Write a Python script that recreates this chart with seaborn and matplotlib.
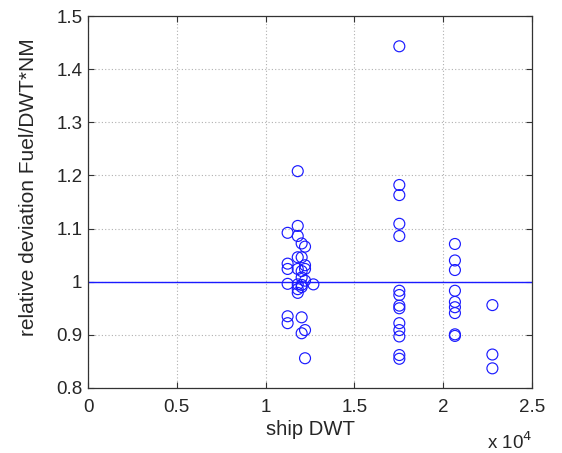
import matplotlib
matplotlib.use("Agg")
import matplotlib.pyplot as plt
import seaborn as sns
import numpy as np
import pandas as pd
from matplotlib.ticker import FixedLocator

# ---- data ----
dwt_c1 = [11810, 11810, 11240, 11810, 12030, 12220, 11810, 12030, 11240, 11240,
          12220, 12220, 11810, 12030, 12030, 11240, 11810, 12030, 12220, 12690,
          11810, 12030, 11810, 11240, 11240, 12030, 12220, 12030, 12220]
rel_c1 = [1.208, 1.105, 1.092, 1.086, 1.072, 1.066, 1.046, 1.046, 1.034, 1.024,
          1.031, 1.024, 1.024, 1.020, 1.008, 0.996, 0.995, 0.994, 1.002, 0.995,
          0.979, 0.990, 0.986, 0.935, 0.922, 0.933, 0.909, 0.903, 0.856]

dwt_c2 = [17530] * 12
rel_c2 = [1.443, 1.182, 1.163, 1.109, 1.086, 0.983, 0.975, 0.955, 0.950,
          0.922, 0.909, 0.897]
dwt_c2b = [17530, 17530]
rel_c2b = [0.862, 0.855]

dwt_c3 = [20660] * 9
rel_c3 = [1.071, 1.040, 1.022, 0.983, 0.962, 0.952, 0.941, 0.901, 0.898]

dwt_c4 = [22770, 22770, 22770]
rel_c4 = [0.956, 0.863, 0.837]

x_ticks = [0, 5000, 10000, 15000, 20000, 25000]
x_tick_labels = ["0", "0.5", "1", "1.5", "2", "2.5"]
y_ticks = [0.8, 0.9, 1.0, 1.1, 1.2, 1.3, 1.4, 1.5]
y_tick_labels = ["0.8", "0.9", "1", "1.1", "1.2", "1.3", "1.4", "1.5"]

df = pd.DataFrame({
    "dwt": dwt_c1 + dwt_c2 + dwt_c2b + dwt_c3 + dwt_c4,
    "rel": rel_c1 + rel_c2 + rel_c2b + rel_c3 + rel_c4,
})

sns.set_style("white")
plt.rcParams["font.family"] = ["Liberation Sans", "DejaVu Sans"]

fig = plt.figure(figsize=(5.62, 4.53), dpi=100)
ax = fig.add_axes([88 / 562, 1 - 388 / 453, 444 / 562, 372 / 453])

blue = "#1a1aff"
ax.axhline(1.0, color=blue, lw=1.0, zorder=2)
sns.scatterplot(data=df, x="dwt", y="rel", ax=ax, marker="o", s=62,
                facecolor="none", edgecolor=blue, linewidth=0.85, zorder=3)

ax.set_xlim(0, 25000)
ax.set_ylim(0.8, 1.5)
ax.xaxis.set_major_locator(FixedLocator(x_ticks))
ax.set_xticklabels(x_tick_labels)
ax.yaxis.set_major_locator(FixedLocator(y_ticks))
ax.set_yticklabels(y_tick_labels)

ax.grid(True, color="#b0b0b0", linestyle=(0, (1, 2)), linewidth=0.8)
ax.set_axisbelow(True)
for sp in ax.spines.values():
    sp.set_visible(True)
    sp.set_color("#333333")
    sp.set_linewidth(0.9)
ax.tick_params(direction="in", length=4, width=0.8, color="#333333",
               labelsize=13.5, pad=4, top=True, right=True,
               bottom=True, left=True)
ax.tick_params(axis="x", pad=8)

ax.set_xlabel("ship DWT", fontsize=14.6, labelpad=3)
ax.set_ylabel("relative deviation Fuel/DWT*NM", fontsize=15)
ax.yaxis.set_label_coords(-50 / 444, 0.54)
fig.text(532 / 562, 1 - 449 / 453, "x 10$^4$", fontsize=13.5, ha="right",
         va="baseline")

fig.savefig("out.png", dpi=100)
